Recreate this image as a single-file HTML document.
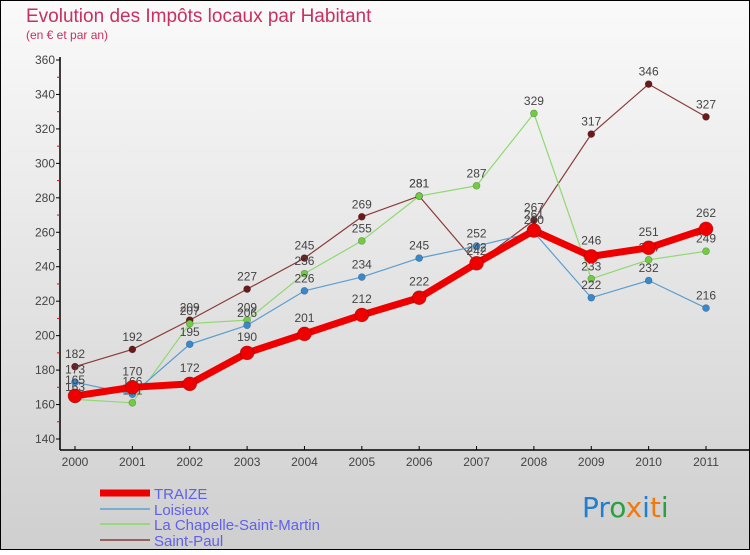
<!DOCTYPE html>
<html><head><meta charset="utf-8"><style>
body{margin:0;width:750px;height:550px;overflow:hidden;font-family:"Liberation Sans",sans-serif}
</style></head><body>
<svg id="chart" width="750" height="550" xmlns="http://www.w3.org/2000/svg">
<defs><linearGradient id="bg" x1="0" y1="0" x2="0" y2="1"><stop offset="0" stop-color="#fafafa"/><stop offset="1" stop-color="#cfcfcf"/></linearGradient></defs>
<rect x="0.5" y="0.5" width="749" height="549" fill="url(#bg)" stroke="#000"/>
<text x="26" y="22" font-size="19" fill="#c8305f">Evolution des Impôts locaux par Habitant</text>
<text x="26" y="39" font-size="12" fill="#c8305f">(en € et par an)</text>
<g id="axes"></g><g id="series"></g><g id="legend"></g>
<text x="582" y="517" font-size="28" font-family="DejaVu Sans,sans-serif"><tspan fill="#1f7fd0">Pr</tspan><tspan fill="#2aa040">o</tspan><tspan fill="#f07a10">x</tspan><tspan fill="#1f7fd0">i</tspan><tspan fill="#f07a10">t</tspan><tspan fill="#2aa040">i</tspan></text>
</svg>
<script>
const years=["2000","2001","2002","2003","2004","2005","2006","2007","2008","2009","2010","2011"];
const yTicks=[140,160,180,200,220,240,260,280,300,320,340,360];
const traize=[165,170,172,190,201,212,222,242,261,246,251,262];
const loisieux=[173,166,195,206,226,234,245,252,260,222,232,216];
const chapelle=[163,161,207,209,236,255,281,287,329,233,244,249];
const saintPaul=[182,192,209,227,245,269,281,242,267,317,346,327];
const NS="http://www.w3.org/2000/svg";
const x=i=>75+i*(706-75)/11;
const y=v=>439-(v-140)*(439-60)/220;
function mk(tag,attrs,parent,txt){const e=document.createElementNS(NS,tag);for(const k in attrs)e.setAttribute(k,attrs[k]);if(txt!==undefined)e.textContent=txt;parent.appendChild(e);return e;}
const ax=document.getElementById('axes');
let a=mk('line',{x1:60,y1:57,x2:60,y2:450,stroke:'#000','stroke-width':1.5},ax);

a=mk('line',{x1:60,y1:450,x2:750,y2:450,stroke:'#000','stroke-width':1.5},ax);

yTicks.forEach((t,i)=>{
 mk('line',{x1:56,y1:y(t),x2:60,y2:y(t),stroke:'#000'},ax);
 if(i<yTicks.length-1)mk('line',{x1:57,y1:y(t+10),x2:60,y2:y(t+10),stroke:'#e00'},ax);
 const l=mk('text',{x:55,y:y(t)+4,'font-size':12,fill:'#444','text-anchor':'end'},ax,String(t));
 
});
years.forEach((yr,i)=>{
 mk('line',{x1:x(i),y1:450,x2:x(i),y2:446,stroke:'#000'},ax);
 const l=mk('text',{x:x(i),y:466,'font-size':12,fill:'#444','text-anchor':'middle'},ax,yr);
 
});
const sg=document.getElementById('series');
const series=[
 {name:'saint-paul',data:saintPaul,c:'#8b3a3a',dot:'#6a1a1a',w:1.2,r:3.5},
 {name:'la-chapelle-saint-martin',data:chapelle,c:'#90d870',dot:'#70cc40',w:1.2,r:3.5},
 {name:'loisieux',data:loisieux,c:'#5a9ed0',dot:'#3a88cc',w:1.2,r:3.5},
 {name:'traize',data:traize,c:'#ee0000',dot:'#ee0000',w:7,r:7}];
series.forEach(s=>{
 const g=mk('g',{},sg);
 const p=mk('polyline',{points:s.data.map((v,i)=>x(i)+','+y(v)).join(' '),fill:'none',stroke:s.c,'stroke-width':s.w,'stroke-linejoin':'round'},g);
 
 s.data.forEach((v,i)=>{
  const c=mk('circle',{cx:x(i),cy:y(v),r:s.r,fill:s.dot,stroke:'rgba(0,0,0,0.3)','stroke-width':0.6},g);
  
  const t=mk('text',{x:x(i),y:y(v)-(s.r+5),'font-size':12,fill:'#444','text-anchor':'middle'},g,String(v));
  
 });
});
const lg=document.getElementById('legend');
[['TRAIZE','#ee0000',7,493],['Loisieux','#7aaed0',2,509],['La Chapelle-Saint-Martin','#98d880',2,524],['Saint-Paul','#9a6060',2,540]].forEach(e=>{
 const g=mk('g',{},lg);
 mk('line',{x1:100,y1:e[3],x2:150,y2:e[3],stroke:e[1],'stroke-width':e[2]},g);
 mk('text',{x:154,y:e[3]+6,'font-size':15,fill:'#6060ee'},g,e[0]);
});
</script>
</body></html>
